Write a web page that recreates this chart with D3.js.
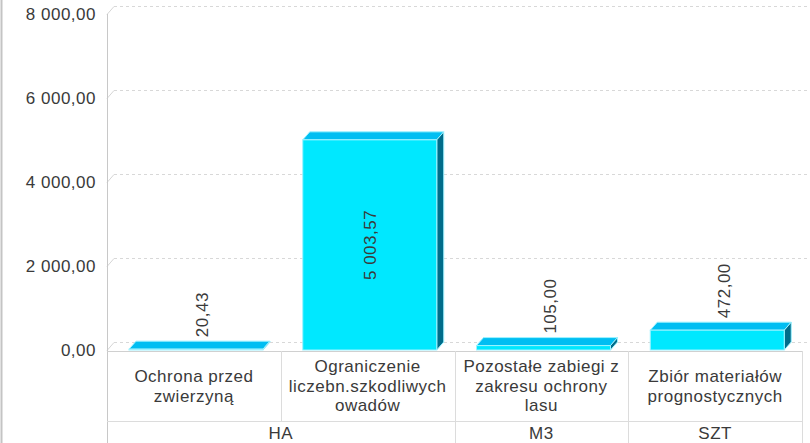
<!DOCTYPE html>
<html>
<head>
<meta charset="utf-8">
<script src="https://cdn.jsdelivr.net/npm/d3@7/dist/d3.min.js"></script>
<style>
  html, body { margin: 0; padding: 0; background: #fff; }
  svg { display: block; }
  text { font-family: "Liberation Sans", Arial, sans-serif; font-size: 17px; letter-spacing: 0.5px; fill: #3a3a3a; }
</style>
</head>
<body>
<svg id="chart" width="810" height="443"></svg>
<script>
// ---- data ----
const categories = ["Ochrona przed zwierzyną", "Ograniczenie liczebn.szkodliwych owadów", "Pozostałe zabiegi z zakresu ochrony lasu", "Zbiór materiałów prognostycznych"];
const categoryLines = [["Ochrona przed", "zwierzyną"], ["Ograniczenie", "liczebn.szkodliwych", "owadów"], ["Pozostałe zabiegi z", "zakresu ochrony", "lasu"], ["Zbiór materiałów", "prognostycznych"]];
const units = ["HA", "HA", "M3", "SZT"];
const values = [20.43, 5003.57, 105.00, 472.00];
const yTicks = [0, 2000, 4000, 6000, 8000];

// ---- layout ----
const W = 810, H = 443;
const plotLeft = 107, plotRight = 802, plotTop = 14, plotBottom = 350;
const depthX = 7, depthY = -8;
const catRowTop = 351, catRowBottom = 421, grpRowBottom = 443;

const svg = d3.select("#chart");

const pl = d3.formatLocale({decimal: ",", thousands: "\u00a0", grouping: [3], currency: ["", ""]});
const fmt = pl.format(",.2f");

const x = d3.scaleBand().domain(categories).range([plotLeft, plotRight]).padding(0);
const y = d3.scaleLinear().domain([0, 8000]).range([plotBottom, plotTop]);

// left border
svg.append("line").attr("x1", 1.5).attr("x2", 1.5).attr("y1", 0).attr("y2", H)
  .attr("stroke", "#c4c4c4").attr("stroke-width", 2);

// back gridlines with depth connector
const grid = svg.append("g");
yTicks.forEach(t => {
  const yy = Math.round(y(t)) + 0.5;
  grid.append("line").attr("x1", plotLeft).attr("y1", yy).attr("x2", plotLeft + depthX).attr("y2", yy + depthY)
    .attr("stroke", "#d6d6d6").attr("stroke-width", 1);
  grid.append("line").attr("x1", plotLeft + depthX).attr("y1", yy + depthY).attr("x2", W).attr("y2", yy + depthY)
    .attr("stroke", "#d8d8d8").attr("stroke-width", 1).attr("stroke-dasharray", "3,3");
});

// y axis
const yAxis = d3.axisLeft(y).tickValues(yTicks).tickSize(0).tickPadding(11).tickFormat(d => fmt(d));
const gy = svg.append("g").attr("transform", `translate(${plotLeft},0)`).call(yAxis);
gy.select(".domain").remove();
gy.selectAll("text").attr("fill", "#3a3a3a").style("font-size", "17px")
  .style("font-family", '"Liberation Sans", Arial, sans-serif');

// axis line (plot + table)
svg.append("line").attr("x1", plotLeft + 0.5).attr("x2", plotLeft + 0.5).attr("y1", plotTop).attr("y2", H)
  .attr("stroke", "#c8c8c8");

// category table
const tbl = svg.append("g").attr("stroke", "#dcdcdc").attr("stroke-width", 1);
tbl.append("line").attr("x1", plotLeft).attr("x2", plotRight).attr("y1", catRowTop + 0.5).attr("y2", catRowTop + 0.5).attr("stroke", "#d0d0d0");
tbl.append("line").attr("x1", plotLeft).attr("x2", plotRight).attr("y1", catRowBottom + 0.5).attr("y2", catRowBottom + 0.5);
categories.forEach((c, i) => {
  const xe = Math.round(x(c) + x.bandwidth()) + 0.5;
  const isGroupEnd = i === categories.length - 1 || units[i] !== units[i + 1];
  tbl.append("line").attr("x1", xe).attr("x2", xe).attr("y1", catRowTop)
    .attr("y2", isGroupEnd ? grpRowBottom : catRowBottom);
});

// category labels
const lineH = 19.5;
categories.forEach((c, i) => {
  const lines = categoryLines[i];
  const cx = x(c) + x.bandwidth() / 2;
  const midY = (catRowTop + catRowBottom) / 2;
  const t = svg.append("text").attr("text-anchor", "middle");
  lines.forEach((ln, j) => {
    t.append("tspan").attr("x", cx).attr("y", midY + (j - (lines.length - 1) / 2) * lineH).attr("dy", "0.35em").text(ln);
  });
});

// group labels
const groups = [];
units.forEach((u, i) => {
  const last = groups[groups.length - 1];
  if (last && last.unit === u) last.end = i; else groups.push({unit: u, start: i, end: i});
});
groups.forEach(g => {
  const x0 = x(categories[g.start]), x1 = x(categories[g.end]) + x.bandwidth();
  svg.append("text").attr("text-anchor", "middle").attr("x", (x0 + x1) / 2)
    .attr("y", (catRowBottom + 443) / 2 + 1).attr("dy", "0.35em").text(g.unit);
});

// bars (3D)
const barOffset = 22, barW = 134;
const bars = svg.append("g");
categories.forEach((c, i) => {
  const x0 = x(c) + barOffset, x1 = x0 + barW;
  const yTop = y(values[i]), yBot = y(0);
  const g = bars.append("g");
  // top face
  g.append("path").attr("d", `M${x0},${yTop} L${x0 + depthX},${yTop + depthY} L${x1 + depthX},${yTop + depthY} L${x1},${yTop} Z`)
    .attr("fill", "#00BEF2").attr("stroke", "#9ef2ff").attr("stroke-width", 1).attr("stroke-linejoin", "round");
  // side face
  g.append("path").attr("d", `M${x1},${yTop} L${x1 + depthX},${yTop + depthY} L${x1 + depthX},${yBot + depthY} L${x1},${yBot} Z`)
    .attr("fill", "#006C8A").attr("stroke", "#9ef2ff").attr("stroke-width", 1).attr("stroke-linejoin", "round");
  // front face
  g.append("rect").attr("x", x0).attr("y", yTop).attr("width", barW).attr("height", Math.max(0.5, yBot - yTop))
    .attr("fill", "#00E8FF").attr("stroke", "#9ef2ff").attr("stroke-width", 1);
});

// value labels (rotated)
categories.forEach((c, i) => {
  const x0 = x(c) + barOffset;
  const yTop = y(values[i]), yBot = y(0);
  const t = svg.append("text").attr("text-anchor", "middle").text(fmt(values[i]));
  const len = t.node().getComputedTextLength();
  let cx, cy;
  if (yBot - yTop > len + 40) {
    cx = x0 + barW / 2;
    cy = (yTop + yBot) / 2;
  } else {
    cx = x0 + barW / 2 + depthX * 0.9;
    cy = yTop + depthY - 4 - len / 2;
  }
  t.attr("transform", `translate(${cx},${cy}) rotate(-90)`).attr("dy", "0.35em");
});
</script>
</body>
</html>
